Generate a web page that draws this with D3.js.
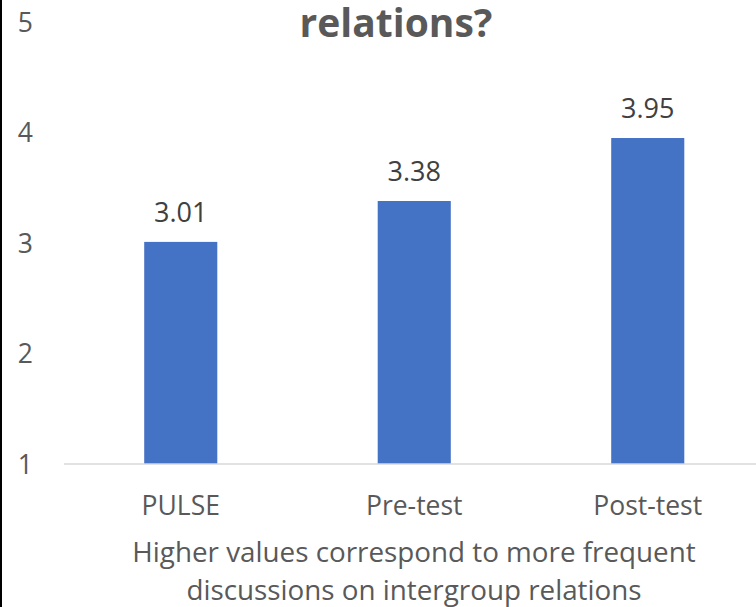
<!DOCTYPE html>
<html><head><meta charset="utf-8">
<script src="https://cdn.jsdelivr.net/npm/d3@7"></script>
<style>body{margin:0;background:#fff;}svg{display:block;font-family:"Open Sans", sans-serif;}</style>
</head><body>
<svg id="c" width="756" height="607"></svg>
<script>
const categories = ["PULSE", "Pre-test", "Post-test"];
const values = [3.01, 3.38, 3.95];
const yTicks = [1, 2, 3, 4, 5];
const titleText = "relations?";
const axisTitleLines = ["Higher values correspond to more frequent", "discussions on intergroup relations"];

const svg = d3.select("#c");
const W = 756, H = 607;
svg.append("rect").attr("width", W).attr("height", H).attr("fill", "#fff");
svg.append("line").attr("x1", 1).attr("x2", 1).attr("y1", 0).attr("y2", H)
  .attr("stroke", "#000").attr("stroke-width", 2);

const x = d3.scaleBand().domain(categories).range([64, 764.5]).paddingInner(0.687).paddingOuter(0.3435);
const y = d3.scaleLinear().domain([1, 5]).range([464, 22]);

svg.selectAll("rect.bar").data(categories).join("rect").attr("class", "bar")
  .attr("x", d => x(d)).attr("width", x.bandwidth())
  .attr("y", (d, i) => y(values[i])).attr("height", (d, i) => y(1) - y(values[i]))
  .attr("fill", "#4472c4");

svg.append("line").attr("x1", 64).attr("x2", W).attr("y1", y(1)).attr("y2", y(1))
  .attr("stroke", "#d9d9d9").attr("stroke-width", 1.5);

svg.selectAll("text.yt").data(yTicks).join("text").attr("class", "yt")
  .attr("x", 33).attr("y", d => y(d)).attr("dy", "0.36em").attr("text-anchor", "end")
  .attr("font-size", 26.5).attr("fill", "#595959").text(d => d);

svg.selectAll("text.xt").data(categories).join("text").attr("class", "xt")
  .attr("x", d => x(d) + x.bandwidth() / 2).attr("y", 515).attr("text-anchor", "middle")
  .attr("font-size", 26.5).attr("fill", "#595959").text(d => d);

svg.selectAll("text.dl").data(categories).join("text").attr("class", "dl")
  .attr("x", d => x(d) + x.bandwidth() / 2).attr("y", (d, i) => y(values[i]) - 20)
  .attr("text-anchor", "middle").attr("font-size", 27).attr("fill", "#404040")
  .text((d, i) => values[i].toFixed(2));

svg.selectAll("text.at").data(axisTitleLines).join("text").attr("class", "at")
  .attr("x", 414).attr("y", (d, i) => 562 + i * 37.5).attr("text-anchor", "middle")
  .attr("font-size", 27.8).attr("fill", "#595959").text(d => d);

svg.append("text").attr("x", 396).attr("y", 37).attr("text-anchor", "middle")
  .attr("font-size", 39).attr("font-weight", "bold").attr("fill", "#595959").text(titleText);
</script>
</body></html>
